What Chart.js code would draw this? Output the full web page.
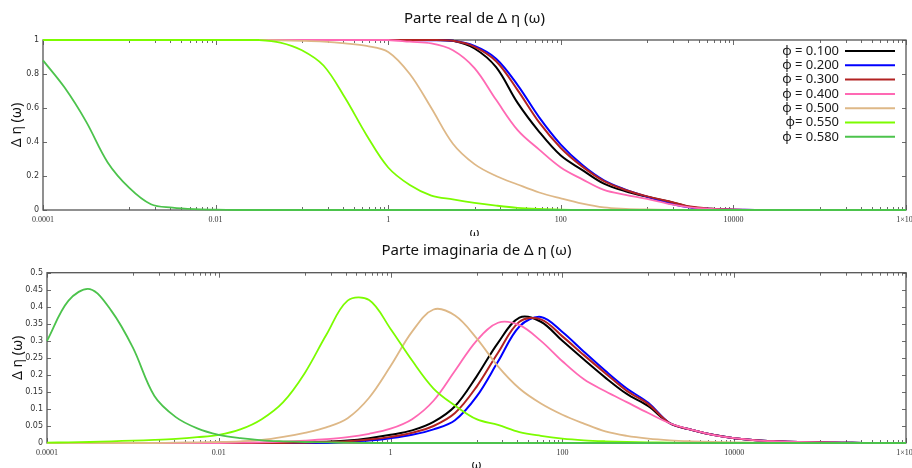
<!DOCTYPE html>
<html>
<head>
<meta charset="utf-8">
<title>Δ η (ω)</title>
<script src="https://cdn.jsdelivr.net/npm/chart.js@4.4.0/dist/chart.umd.min.js"></script>
<style>
  body { margin: 0; background: #fff; }
  canvas { display: block; }
</style>
</head>
<body>
<canvas id="realChart" width="912" height="236"></canvas>
<canvas id="imagChart" width="912" height="232"></canvas>
<script>
// frequency grid (quarter decades from 1e-4 to 1e6)
const omega = [0.0001, 0.000178, 0.000316, 0.000562, 0.001, 0.00178, 0.00316, 0.00562,
  0.01, 0.0178, 0.0316, 0.0562, 0.1, 0.178, 0.316, 0.562, 1, 1.78, 3.16, 5.62,
  10, 17.8, 31.6, 56.2, 100, 178, 316, 562, 1000, 1780, 3160, 5620,
  10000, 17800, 31600, 56200, 100000, 178000, 316000, 562000, 1000000];

const phiLabels = ['φ = 0.100', 'φ = 0.200', 'φ = 0.300', 'φ = 0.400', 'φ = 0.500', 'φ= 0.550', 'φ = 0.580'];
const phiColors = ['#000000', '#0000ff', '#b22222', '#ff69b4', '#deb887', '#7cfc00', '#4cc34c'];

// real part
const real100 = [1, 1, 1, 1, 1, 1, 1, 1, 1, 1, 1, 1, 1, 1, 1, 1, 1, 1, 1, 0.995,
  0.95, 0.84, 0.63, 0.46, 0.32, 0.235, 0.155, 0.11, 0.078, 0.05, 0.018, 0.007,
  0.002, 0, 0, 0, 0, 0, 0, 0, 0];
const real200 = [1, 1, 1, 1, 1, 1, 1, 1, 1, 1, 1, 1, 1, 1, 1, 1, 1, 1, 0.998, 0.995,
  0.965, 0.89, 0.735, 0.545, 0.385, 0.265, 0.175, 0.12, 0.078, 0.04, 0.015, 0.006,
  0.002, 0, 0, 0, 0, 0, 0, 0, 0];
const real300 = [1, 1, 1, 1, 1, 1, 1, 1, 1, 1, 1, 1, 1, 1, 1, 1, 1, 1, 1, 0.995,
  0.96, 0.875, 0.705, 0.515, 0.365, 0.255, 0.17, 0.118, 0.08, 0.052, 0.02, 0.007,
  0.002, 0, 0, 0, 0, 0, 0, 0, 0];
const real400 = [1, 1, 1, 1, 1, 1, 1, 1, 1, 1, 1, 1, 1, 1, 1, 1, 1, 0.99, 0.98, 0.94,
  0.835, 0.648, 0.47, 0.355, 0.25, 0.18, 0.118, 0.089, 0.065, 0.036, 0.016, 0.007,
  0.003, 0.001, 0, 0, 0, 0, 0, 0, 0];
const real500 = [1, 1, 1, 1, 1, 1, 1, 1, 1, 1, 1, 0.998, 0.995, 0.99, 0.98, 0.965, 0.93, 0.8, 0.6, 0.39,
  0.27, 0.2, 0.15, 0.103, 0.068, 0.037, 0.015, 0.007, 0.003, 0.001, 0, 0,
  0, 0, 0, 0, 0, 0, 0, 0, 0];
const real550 = [1, 1, 1, 1, 1, 1, 1, 1, 1, 1, 1, 0.985, 0.94, 0.85, 0.66, 0.44, 0.25, 0.147, 0.085, 0.062,
  0.042, 0.026, 0.013, 0.006, 0.002, 0, 0, 0, 0, 0, 0, 0,
  0, 0, 0, 0, 0, 0, 0, 0, 0];
const real580 = [0.88, 0.72, 0.52, 0.28, 0.13, 0.034, 0.014, 0.005, 0.002, 0, 0, 0, 0, 0, 0, 0, 0, 0, 0, 0,
  0, 0, 0, 0, 0, 0, 0, 0, 0, 0, 0, 0,
  0, 0, 0, 0, 0, 0, 0, 0, 0];

// imaginary part
const imag100 = [0, 0, 0, 0, 0, 0, 0, 0, 0, 0, 0, 0.001, 0.002, 0.004, 0.007, 0.014, 0.024, 0.037, 0.062, 0.108,
  0.195, 0.294, 0.368, 0.356, 0.3, 0.245, 0.192, 0.144, 0.108, 0.058, 0.039, 0.024,
  0.014, 0.008, 0.005, 0.003, 0.002, 0.001, 0, 0, 0];
const imag200 = [0, 0, 0, 0, 0, 0, 0, 0, 0, 0, 0, 0, 0, 0, 0.004, 0.007, 0.014, 0.024, 0.04, 0.067,
  0.136, 0.239, 0.342, 0.37, 0.326, 0.268, 0.212, 0.16, 0.118, 0.058, 0.039, 0.024,
  0.014, 0.008, 0.005, 0.003, 0.002, 0.001, 0, 0, 0];
const imag300 = [0, 0, 0, 0, 0, 0, 0, 0, 0, 0, 0, 0, 0.001, 0.003, 0.005, 0.01, 0.018, 0.03, 0.05, 0.088,
  0.165, 0.265, 0.356, 0.363, 0.313, 0.258, 0.205, 0.153, 0.114, 0.058, 0.039, 0.024,
  0.014, 0.008, 0.005, 0.003, 0.002, 0.001, 0, 0, 0];
const imag400 = [0, 0, 0, 0, 0, 0, 0, 0, 0, 0.001, 0.002, 0.004, 0.007, 0.011, 0.017, 0.027, 0.042, 0.07, 0.124, 0.212,
  0.3, 0.353, 0.346, 0.3, 0.24, 0.187, 0.152, 0.12, 0.088, 0.058, 0.039, 0.024,
  0.014, 0.008, 0.005, 0.003, 0.002, 0.001, 0, 0, 0];
const imag500 = [0, 0, 0, 0, 0, 0, 0.001, 0.002, 0.003, 0.005, 0.009, 0.018, 0.03, 0.046, 0.073, 0.133, 0.226, 0.327, 0.392, 0.374,
  0.308, 0.225, 0.16, 0.116, 0.083, 0.057, 0.034, 0.021, 0.013, 0.008, 0.005, 0.003,
  0.002, 0.001, 0, 0, 0, 0, 0, 0, 0];
const imag550 = [0.001, 0.002, 0.003, 0.005, 0.007, 0.009, 0.012, 0.017, 0.024, 0.04, 0.07, 0.12, 0.205, 0.317, 0.418, 0.42, 0.335, 0.242, 0.16, 0.11,
  0.07, 0.053, 0.032, 0.021, 0.013, 0.008, 0.005, 0.003, 0.002, 0.001, 0, 0,
  0, 0, 0, 0, 0, 0, 0, 0, 0];
const imag580 = [0.3, 0.418, 0.452, 0.388, 0.28, 0.138, 0.076, 0.043, 0.024, 0.014, 0.008, 0.005, 0.003, 0.002, 0.001, 0, 0, 0, 0, 0,
  0, 0, 0, 0, 0, 0, 0, 0, 0, 0, 0, 0,
  0, 0, 0, 0, 0, 0, 0, 0, 0];

// axis ticks
const xMajor = [0.0001, 0.01, 1, 100, 10000, 1000000];
const xTickLabels = ['0.0001', '0.01', '1', '100', '10000', '1×10⁶'];
const realTicks = [0, 0.2, 0.4, 0.6, 0.8, 1];
const imagTicks = [0, 0.05, 0.1, 0.15, 0.2, 0.25, 0.3, 0.35, 0.4, 0.45, 0.5];

// minor marks: 1..9 times the odd powers of ten
const xMinor = [];
[0.001, 0.1, 10, 1000, 100000].forEach(base => {
  for (let m = 1; m <= 9; m++) xMinor.push(base * m);
});
const xTicks = xMajor.concat(xMinor).sort((a, b) => a - b);

const realSeries = [real100, real200, real300, real400, real500, real550, real580];
const imagSeries = [imag100, imag200, imag300, imag400, imag500, imag550, imag580];

// box around the plot with inward tick marks on all four sides
const frameTicks = {
  id: 'frameTicks',
  beforeDatasetsDraw(chart) {
    const { ctx, chartArea: a, scales: { x, y } } = chart;
    ctx.save();
    ctx.strokeStyle = '#6a6a6a';
    ctx.lineWidth = 1;
    ctx.beginPath();
    x.ticks.forEach(t => {
      const px = Math.round(x.getPixelForValue(t.value)) + 0.5;
      const len = xMajor.includes(t.value) ? 5 : 3;
      ctx.moveTo(px, a.bottom); ctx.lineTo(px, a.bottom - len);
      ctx.moveTo(px, a.top); ctx.lineTo(px, a.top + len);
    });
    y.ticks.forEach(t => {
      const py = Math.round(y.getPixelForValue(t.value)) + 0.5;
      ctx.moveTo(a.left, py); ctx.lineTo(a.left + 4, py);
      ctx.moveTo(a.right, py); ctx.lineTo(a.right - 4, py);
    });
    ctx.stroke();
    ctx.lineWidth = 1.3;
    ctx.strokeStyle = '#555';
    ctx.strokeRect(a.left, a.top, a.width, a.height);
    ctx.restore();
  }
};

// key in the upper right: label first, then a sample of the line
const lineKey = {
  id: 'lineKey',
  afterDatasetsDraw(chart) {
    const { ctx, chartArea: a } = chart;
    ctx.save();
    ctx.font = '13px "Noto Sans"';
    ctx.textAlign = 'right';
    ctx.textBaseline = 'middle';
    chart.data.datasets.forEach((ds, i) => {
      const yy = a.top + 11 + i * 14.3;
      ctx.fillStyle = '#1a1a1a';
      ctx.fillText(ds.label, a.right - 67, yy);
      ctx.strokeStyle = ds.borderColor;
      ctx.lineWidth = 2;
      ctx.beginPath();
      ctx.moveTo(a.right - 61, yy);
      ctx.lineTo(a.right - 11, yy);
      ctx.stroke();
    });
    ctx.restore();
  }
};

function makeChart(id, series, opts) {
  const datasets = phiLabels.map((label, i) => ({
    label,
    data: omega.map((w, j) => ({ x: w, y: series[i][j] })),
    borderColor: phiColors[i],
    borderWidth: i < 3 ? 2 : 1.8,
    pointRadius: 0,
    tension: 0.35,
    clip: 3,
    order: phiLabels.length - 1 - i
  }));
  return new Chart(document.getElementById(id), {
    type: 'line',
    data: { datasets },
    plugins: opts.key ? [frameTicks, lineKey] : [frameTicks],
    options: {
      responsive: false,
      animation: false,
      layout: { padding: { left: 0, right: 6, top: 0, bottom: 0 } },
      plugins: {
        legend: { display: false },
        tooltip: { enabled: false },
        title: {
          display: true,
          fullSize: false,
          text: opts.title,
          color: '#111',
          font: { family: 'Noto Sans', size: 15, weight: 'normal' },
          padding: opts.titlePad
        }
      },
      scales: {
        x: {
          type: 'logarithmic',
          min: 0.0001,
          max: 1000000,
          grid: { display: false, drawTicks: false },
          border: { display: false },
          afterBuildTicks: s => { s.ticks = xTicks.map(v => ({ value: v })); },
          afterFit: s => { s.height = opts.xHeight; s.paddingLeft = 0; s.paddingRight = 0; },
          ticks: {
            autoSkip: false,
            maxRotation: 0,
            padding: 5,
            color: '#333',
            font: { family: 'Liberation Serif', size: 8 },
            callback: v => {
              const k = xMajor.indexOf(v);
              return k >= 0 ? xTickLabels[k] : '';
            }
          },
          title: {
            display: true,
            text: 'ω',
            color: '#111',
            font: { family: 'Noto Sans', size: 13 },
            padding: { top: 0, bottom: -5 }
          }
        },
        y: {
          min: 0,
          max: opts.yMax,
          grid: { display: false, drawTicks: false },
          border: { display: false },
          afterBuildTicks: s => { s.ticks = opts.yTicks.map(v => ({ value: v })); },
          afterFit: s => { s.width = opts.yWidth; s.paddingTop = 0; s.paddingBottom = 0; },
          ticks: {
            padding: 4,
            color: '#333',
            font: { family: 'DejaVu Sans', size: 8 },
            callback: v => String(v)
          },
          title: {
            display: true,
            text: 'Δ η (ω)',
            color: '#111',
            font: { family: 'Noto Sans', size: 14 },
            padding: { top: opts.yTitlePad, bottom: 0 }
          }
        }
      }
    }
  });
}

makeChart('realChart', realSeries, {
  title: 'Parte real de Δ η (ω)',
  titlePad: { top: 10, bottom: 12 },
  key: true,
  xHeight: 26,
  yWidth: 43,
  yMax: 1,
  yTicks: realTicks,
  yTitlePad: 8.6
});

makeChart('imagChart', imagSeries, {
  title: 'Parte imaginaria de Δ η (ω)',
  titlePad: { top: 6, bottom: 12.7 },
  key: false,
  xHeight: 25,
  yWidth: 47,
  yMax: 0.5,
  yTicks: imagTicks,
  yTitlePad: 10
});
</script>
</body>
</html>
